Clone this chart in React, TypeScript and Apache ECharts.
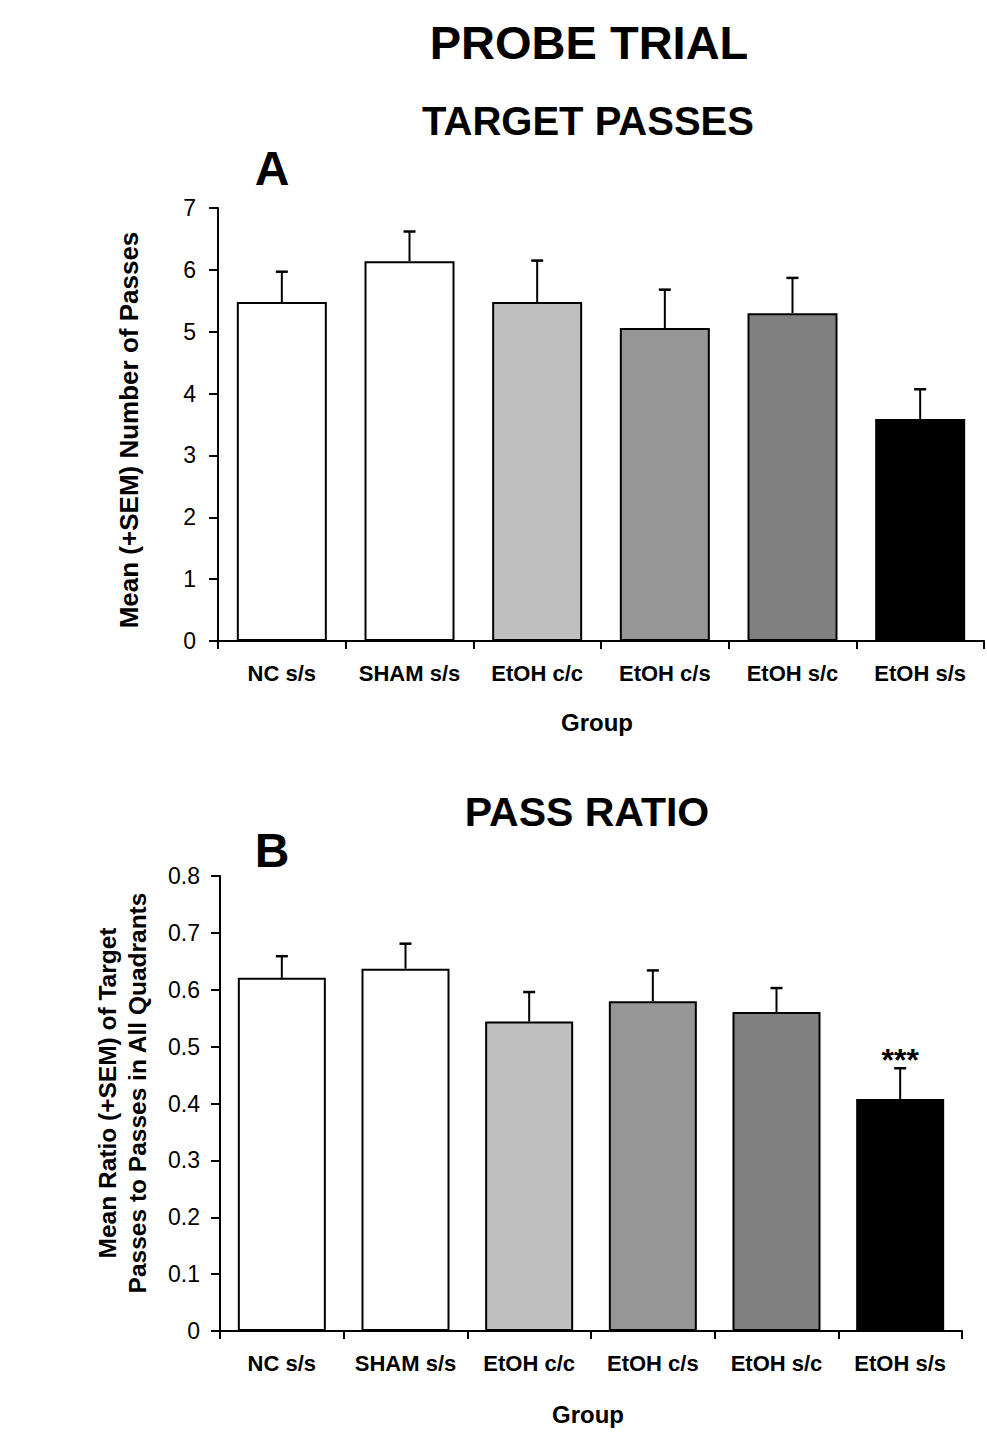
import React, { useEffect, useRef } from "react";
import * as echarts from "echarts";

const categories = ["NC s/s", "SHAM s/s", "EtOH c/c", "EtOH c/s", "EtOH s/c", "EtOH s/s"];
const barColors = ["#ffffff", "#ffffff", "#c0c0c0", "#969696", "#808080", "#000000"];

const passesMean = [5.48, 6.14, 5.48, 5.06, 5.3, 3.59];
const passesSem = [0.49, 0.48, 0.67, 0.62, 0.57, 0.48];
const passesSig = ["", "", "", "", "", ""];

const ratioMean = [0.621, 0.637, 0.544, 0.58, 0.561, 0.408];
const ratioSem = [0.038, 0.044, 0.052, 0.054, 0.042, 0.054];
const ratioSig = ["", "", "", "", "", "***"];

const FONT = '"Liberation Sans", Arial, Helvetica, sans-serif';

function errorSeries(idx: number, mean: number[], sem: number[], sig: string[]) {
  return {
    type: "custom",
    xAxisIndex: idx,
    yAxisIndex: idx,
    z: 5,
    encode: { x: 0, y: 1 },
    data: mean.map((m, i) => [i, m, sem[i]]),
    renderItem: (params: any, api: any) => {
      const i = api.value(0);
      const m = api.value(1);
      const s = api.value(2);
      const base = api.coord([i, m]);
      const top = api.coord([i, m + s]);
      const children: any[] = [
        {
          type: "line",
          shape: { x1: base[0], y1: base[1], x2: top[0], y2: top[1] },
          style: { stroke: "#000", lineWidth: 2 },
        },
        {
          type: "line",
          shape: { x1: top[0] - 6, y1: top[1], x2: top[0] + 6, y2: top[1] },
          style: { stroke: "#000", lineWidth: 2.5 },
        },
      ];
      const lbl = sig[params.dataIndex];
      if (lbl) {
        children.push({
          type: "text",
          x: top[0],
          y: top[1] + 8,
          style: {
            text: lbl,
            fill: "#000",
            font: `bold 32px ${FONT}`,
            textAlign: "center",
            textVerticalAlign: "bottom",
          },
        });
      }
      return { type: "group", children };
    },
  };
}

function barSeries(idx: number, mean: number[], width: number) {
  return {
    type: "bar",
    xAxisIndex: idx,
    yAxisIndex: idx,
    barWidth: width,
    z: 2,
    data: mean.map((v, i) => ({
      value: v,
      itemStyle: { color: barColors[i], borderColor: "#000", borderWidth: 2 },
    })),
  };
}

const axisStyle = {
  axisLine: { show: true, lineStyle: { color: "#000", width: 2 } },
  axisTick: { show: true, inside: false, length: 9, lineStyle: { color: "#000", width: 2 } },
  splitLine: { show: false },
};

export default function App() {
  const ref = useRef<HTMLDivElement>(null);
  useEffect(() => {
    if (!ref.current) return;
    const chart = echarts.init(ref.current, undefined, { renderer: "svg" });
    const titleText = (text: string, x: number, y: number, size: number, extra: any = {}) => ({
      type: "text",
      x,
      y,
      ...extra,
      style: {
        text,
        fill: "#000",
        font: `bold ${size}px ${FONT}`,
        textAlign: "center",
        textVerticalAlign: "middle",
        lineHeight: 30,
      },
    });
    chart.setOption({
      animation: false,
      backgroundColor: "#ffffff",
      grid: [
        { left: 218, top: 208, width: 766, height: 433 },
        { left: 220, top: 876, width: 742, height: 455 },
      ],
      xAxis: [0, 1].map((g) => ({
        type: "category",
        gridIndex: g,
        data: categories,
        ...axisStyle,
        axisTick: { ...axisStyle.axisTick, length: 8 },
        axisLabel: {
          color: "#000",
          fontFamily: FONT,
          fontWeight: "bold",
          fontSize: 22,
          margin: 21,
          interval: 0,
        },
      })),
      yAxis: [
        {
          type: "value",
          gridIndex: 0,
          min: 0,
          max: 7,
          interval: 1,
          ...axisStyle,
          axisLabel: { color: "#000", fontFamily: FONT, fontSize: 23, margin: 22 },
        },
        {
          type: "value",
          gridIndex: 1,
          min: 0,
          max: 0.8,
          interval: 0.1,
          ...axisStyle,
          axisLabel: {
            color: "#000",
            fontFamily: FONT,
            fontSize: 23,
            margin: 20,
            formatter: (v: number) => (v === 0 ? "0" : v.toFixed(1)),
          },
        },
      ],
      graphic: [
        titleText("PROBE TRIAL", 589, 42, 47),
        titleText("TARGET PASSES", 588, 121, 40),
        titleText("A", 272, 168, 48),
        titleText("Mean (+SEM) Number of Passes", 129, 430, 26, { rotation: Math.PI / 2 }),
        titleText("Group", 597, 722, 24),
        titleText("PASS RATIO", 587, 812, 41),
        titleText("B", 272, 850, 48),
        titleText(
          "Mean Ratio (+SEM) of Target\nPasses to Passes in All Quadrants",
          122,
          1093,
          24.5,
          { rotation: Math.PI / 2 }
        ),
        titleText("Group", 588, 1414, 24),
      ],
      series: [
        barSeries(0, passesMean, 90),
        errorSeries(0, passesMean, passesSem, passesSig),
        barSeries(1, ratioMean, 88),
        errorSeries(1, ratioMean, ratioSem, ratioSig),
      ],
    });
    return () => chart.dispose();
  }, []);
  return (
    <div
      ref={ref}
      style={{ position: "absolute", left: 0, top: 0, width: 987, height: 1438, background: "#fff" }}
    />
  );
}
